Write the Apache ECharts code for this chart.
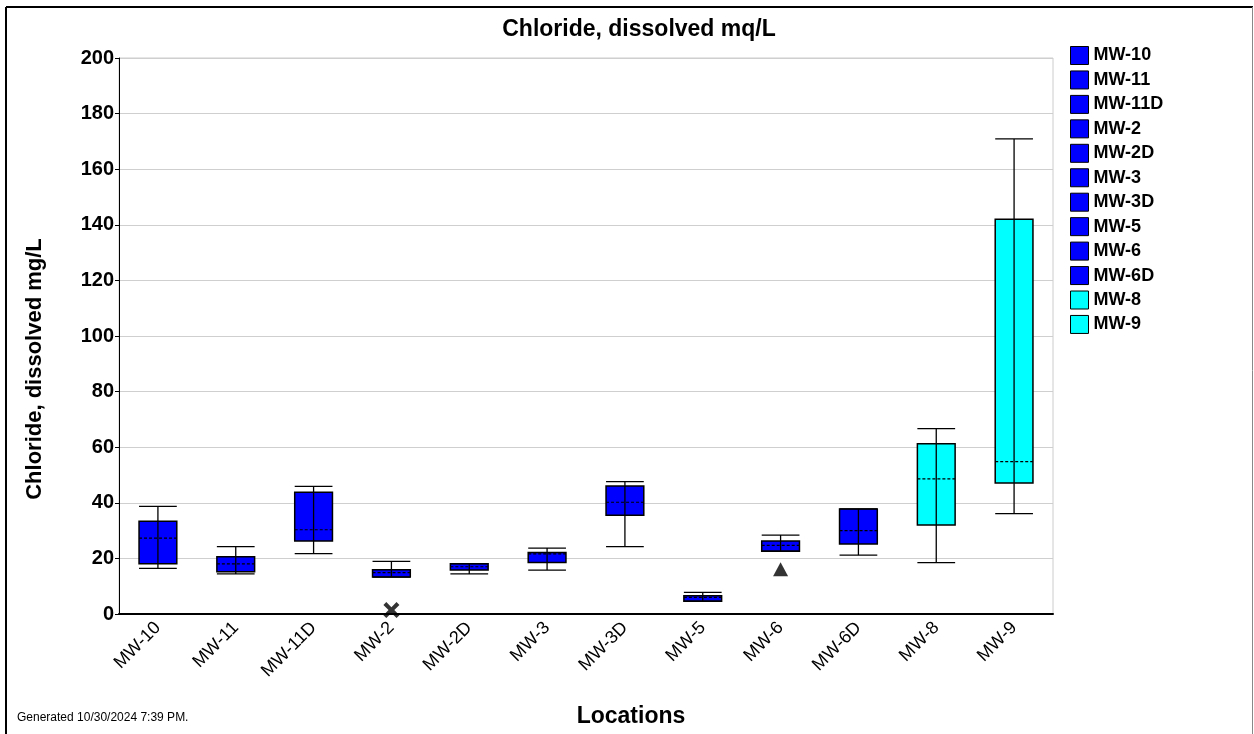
<!DOCTYPE html>
<html>
<head>
<meta charset="utf-8">
<script src="https://cdn.jsdelivr.net/npm/echarts@6/dist/echarts.min.js"></script>
<style>html,body{margin:0;padding:0;background:#fff;}#c{width:1254px;height:734px;}</style>
</head>
<body>
<div id="c"></div>
<script>
var categories = ['MW-10','MW-11','MW-11D','MW-2','MW-2D','MW-3','MW-3D','MW-5','MW-6','MW-6D','MW-8','MW-9'];
var whiskerLow  = [16.4, 14.4, 21.7, 13.3, 14.4, 15.8, 24.2, 4.6, 22.6, 21.2, 18.5, 36.1];
var q1          = [18.1, 15.2, 26.3, 13.3, 15.8, 18.5, 35.5, 4.6, 22.6, 25.2, 32.0, 47.1];
var median      = [27.3, 18.0, 30.3, 14.9, 17.0, 21.6, 40.2, 6.0, 24.7, 30.0, 48.6, 54.8];
var q3          = [33.4, 20.6, 43.8, 15.9, 18.1, 22.1, 46.0, 6.6, 26.3, 37.8, 61.2, 142.0];
var whiskerHigh = [38.7, 24.2, 45.9, 18.9, 18.1, 23.7, 47.6, 7.8, 28.4, 37.8, 66.7, 170.9];
var boxColors = ['#0000FF','#0000FF','#0000FF','#0000FF','#0000FF','#0000FF','#0000FF','#0000FF','#0000FF','#0000FF','#00FFFF','#00FFFF'];
var crossPoints = [['MW-2', 1.4]];
var trianglePoints = [['MW-6', 16.1]];
var yTicks = {min: 0, max: 200, interval: 20};

var FONT = 'Liberation Sans, Arial, sans-serif';

function renderBox(params, api) {
  var idx = api.value(0);
  var bw = api.size([1, 0])[0] * 0.485;
  var pLow = api.coord([idx, api.value(1)]);
  var pQ1 = api.coord([idx, api.value(2)]);
  var pMed = api.coord([idx, api.value(3)]);
  var pQ3 = api.coord([idx, api.value(4)]);
  var pHigh = api.coord([idx, api.value(5)]);
  var cx = pQ1[0];
  var half = bw / 2;
  var lineStyle = {stroke: '#000', lineWidth: 1.3};
  return {
    type: 'group',
    children: [
      {type: 'rect', shape: {x: cx - half, y: pQ3[1], width: bw, height: pQ1[1] - pQ3[1]},
       style: {fill: api.visual('color'), stroke: '#000', lineWidth: 1.5}},
      {type: 'line', shape: {x1: cx, y1: pHigh[1], x2: cx, y2: pLow[1]}, style: lineStyle},
      {type: 'line', shape: {x1: cx - half, y1: pMed[1], x2: cx + half, y2: pMed[1]},
       style: {stroke: '#000', lineWidth: 1.2, lineDash: [3, 2]}},
      {type: 'line', shape: {x1: cx - half, y1: pHigh[1], x2: cx + half, y2: pHigh[1]}, style: lineStyle},
      {type: 'line', shape: {x1: cx - half, y1: pLow[1], x2: cx + half, y2: pLow[1]}, style: lineStyle}
    ]
  };
}

var series = categories.map(function (name, i) {
  return {
    name: name,
    type: 'custom',
    renderItem: renderBox,
    itemStyle: {color: boxColors[i], borderColor: '#000', borderWidth: 1},
    encode: {x: 0, y: [1, 2, 3, 4, 5]},
    data: [[i, whiskerLow[i], q1[i], median[i], q3[i], whiskerHigh[i]]],
    z: 3
  };
});
series.push({
  name: 'crossOutliers', type: 'scatter',
  symbol: 'path://M0,1.8 L1.8,0 L5,3.2 L8.2,0 L10,1.8 L6.8,5 L10,8.2 L8.2,10 L5,6.8 L1.8,10 L0,8.2 L3.2,5 Z',
  symbolSize: 16, itemStyle: {color: '#000'}, data: crossPoints, z: 5
});
series.push({
  name: 'triangleOutliers', type: 'scatter', symbol: 'triangle',
  symbolSize: [15, 14], itemStyle: {color: '#000'}, data: trianglePoints, z: 5
});

var chart = echarts.init(document.getElementById('c'));
chart.setOption({
  animation: false,
  backgroundColor: '#fff',
  title: {
    text: 'Chloride, dissolved mq/L', left: 634, top: 13, textAlign: 'center',
    textStyle: {fontFamily: FONT, fontSize: 23, fontWeight: 'bold', color: '#000'}
  },
  legend: {
    orient: 'vertical', left: 1070, top: 46, padding: 0, itemWidth: 18, itemHeight: 18, itemGap: 5.45,
    icon: 'rect', selectedMode: false,
    data: categories.map(function (n, i) {
      return {name: n, itemStyle: {color: boxColors[i], borderColor: '#000', borderWidth: 1}};
    }),
    textStyle: {fontFamily: FONT, fontSize: 18, lineHeight: 18, fontWeight: 'bold', color: '#000'}
  },
  grid: {left: 119, top: 58, right: 201, bottom: 120, show: true, borderColor: '#cccccc', borderWidth: 1, containLabel: false},
  xAxis: {
    type: 'category', data: categories, boundaryGap: true,
    axisLine: {lineStyle: {color: '#000', width: 2}},
    axisTick: {show: false},
    axisLabel: {rotate: 45, fontFamily: FONT, fontSize: 18, color: '#000', margin: 11, interval: 0},
    splitLine: {show: false}
  },
  yAxis: {
    type: 'value', min: yTicks.min, max: yTicks.max, interval: yTicks.interval,
    axisLine: {show: true, lineStyle: {color: '#000', width: 1}},
    axisTick: {show: true, length: 4, lineStyle: {color: '#000'}},
    axisLabel: {fontFamily: FONT, fontSize: 20, fontWeight: 'bold', color: '#000', margin: 5},
    splitLine: {lineStyle: {color: '#cfcfcf', width: 1}}
  },
  graphic: [
    {type: 'line', shape: {x1: 6, y1: 7, x2: 1253, y2: 7}, style: {stroke: '#000', lineWidth: 2}},
    {type: 'line', shape: {x1: 6, y1: 7, x2: 6, y2: 734}, style: {stroke: '#000', lineWidth: 2}},
    {type: 'line', shape: {x1: 1252.5, y1: 7, x2: 1252.5, y2: 734}, style: {stroke: '#888', lineWidth: 1}},
    {type: 'text', x: 35, y: 369, rotation: Math.PI / 2,
     style: {text: 'Chloride, dissolved mg/L', fontFamily: FONT, fontSize: 22, fontWeight: 'bold', fill: '#000', align: 'center', verticalAlign: 'middle'}},
    {type: 'text', x: 631, y: 717,
     style: {text: 'Locations', fontFamily: FONT, fontSize: 23, fontWeight: 'bold', fill: '#000', align: 'center', verticalAlign: 'middle'}},
    {type: 'text', left: 17, top: 712, style: {text: 'Generated 10/30/2024 7:39 PM.', fontFamily: FONT, fontSize: 12, fill: '#000'}}
  ],
  series: series
});
</script>
</body>
</html>
